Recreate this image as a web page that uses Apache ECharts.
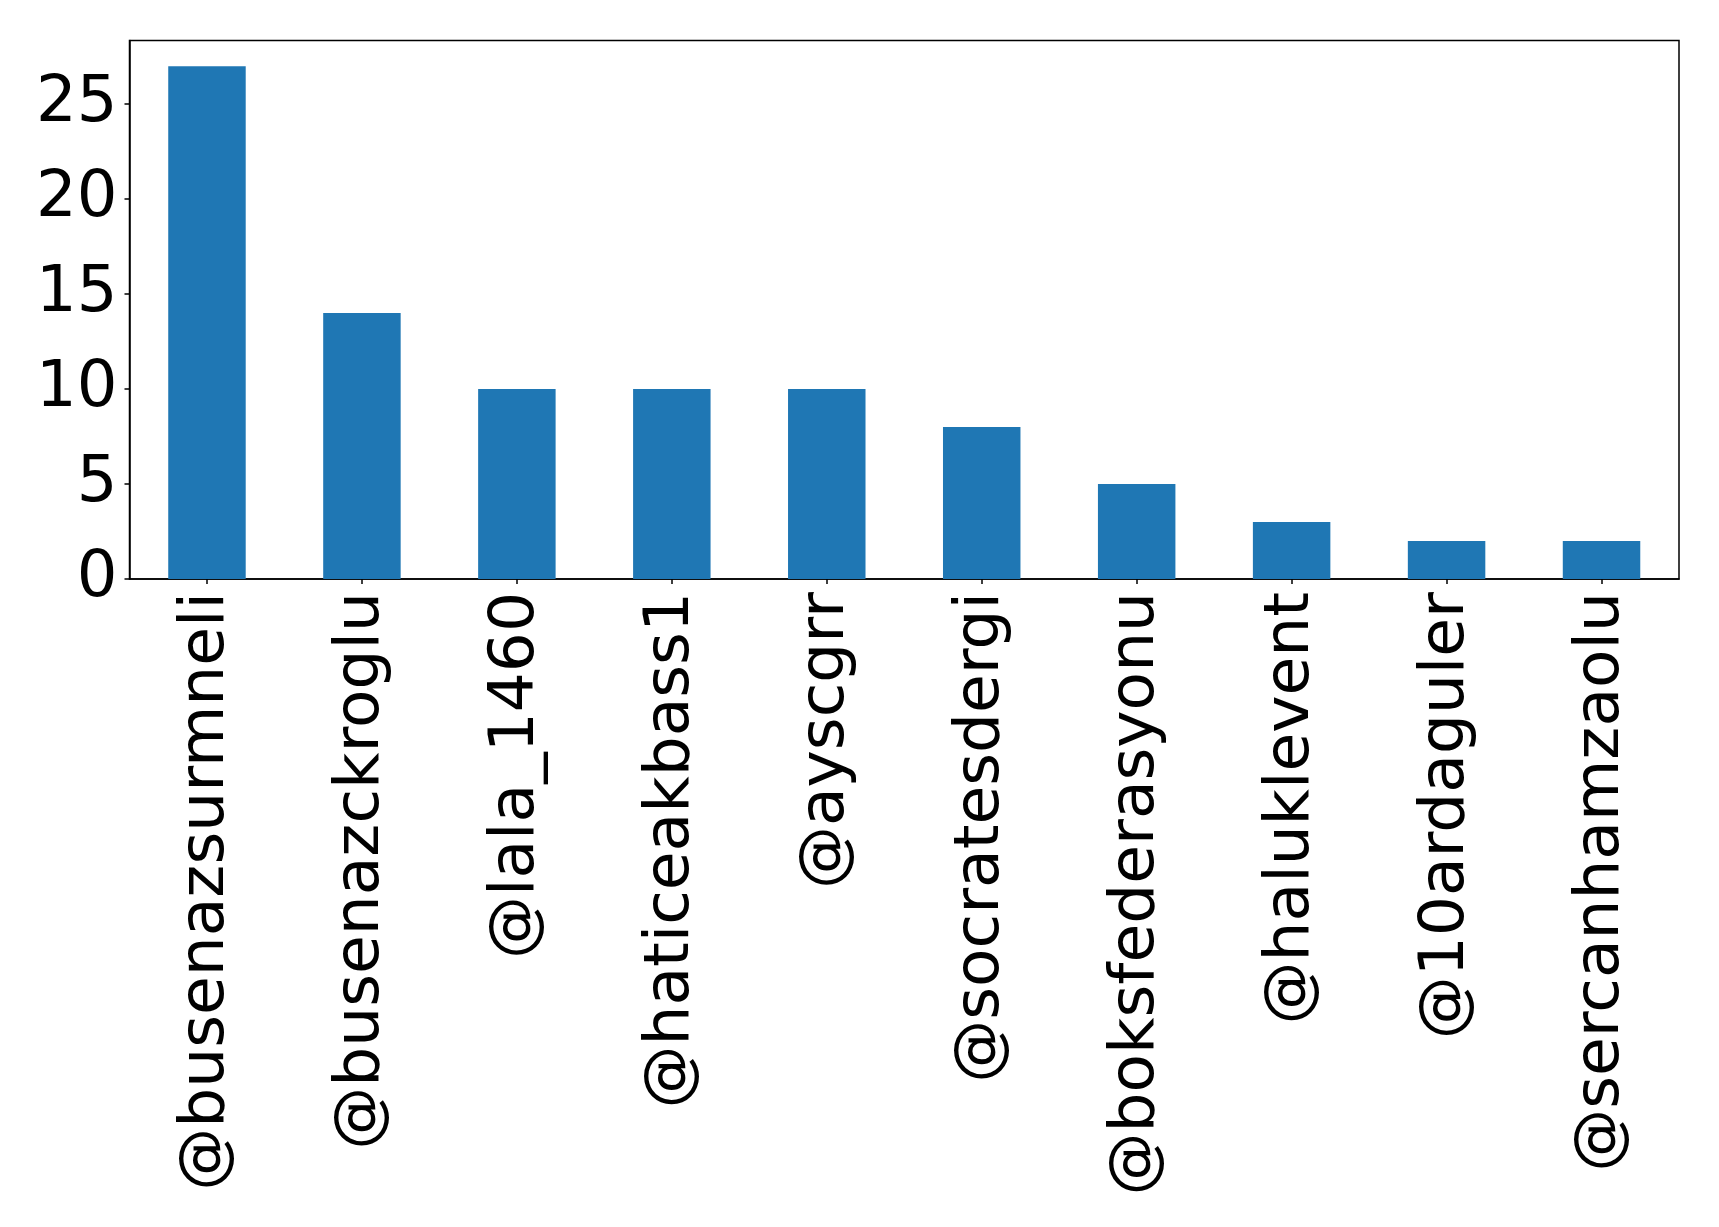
<!DOCTYPE html>
<html>
<head>
<meta charset="utf-8">
<script src="https://cdn.jsdelivr.net/npm/echarts@6/dist/echarts.min.js"></script>
<style>html,body{margin:0;padding:0;background:#fff;}#main{width:1719px;height:1227px;}</style>
</head>
<body>
<div id="main"></div>
<script>
const categories = ["@busenazsurmneli","@busenazckroglu","@lala_1460","@haticeakbass1","@ayscgrr","@socratesdergi","@boksfederasyonu","@haluklevent","@10ardaguler","@sercanhamzaolu"];
const counts = [27, 14, 10, 10, 10, 8, 5, 3, 2, 2];
const yMax = 28.35;
const yTicks = [0, 5, 10, 15, 20, 25];

const chart = echarts.init(document.getElementById('main'), null, {renderer: 'canvas'});
const font = 'DejaVu Sans';
chart.setOption({
  animation: false,
  backgroundColor: '#ffffff',
  grid: {left: 129.5, right: 40, top: 40.5, bottom: 648, show: true, borderColor: '#000', borderWidth: 1.5, backgroundColor: 'transparent', containLabel: false},
  xAxis: {
    type: 'category',
    data: categories,
    boundaryGap: true,
    axisLine: {show: true, lineStyle: {color: '#000', width: 1.5}},
    axisTick: {show: true, alignWithLabel: true, length: 5, lineStyle: {color: '#000', width: 1.5}},
    axisLabel: {rotate: 90, interval: 0, margin: 13, fontFamily: font, fontSize: 63, color: '#000'},
    splitLine: {show: false}
  },
  yAxis: {
    type: 'value',
    min: 0, max: yMax, interval: 5,
    axisLine: {show: true, lineStyle: {color: '#000', width: 1.5}},
    axisTick: {show: true, length: 5, lineStyle: {color: '#000', width: 1.5}},
    axisLabel: {margin: 12, fontFamily: font, fontSize: 64, color: '#000', showMaxLabel: false,
      formatter: v => yTicks.includes(v) ? String(v) : ''},
    splitLine: {show: false}
  },
  series: [{
    type: 'bar',
    data: counts,
    barWidth: '50%',
    itemStyle: {color: '#1f77b4'}
  }]
});
</script>
</body>
</html>
